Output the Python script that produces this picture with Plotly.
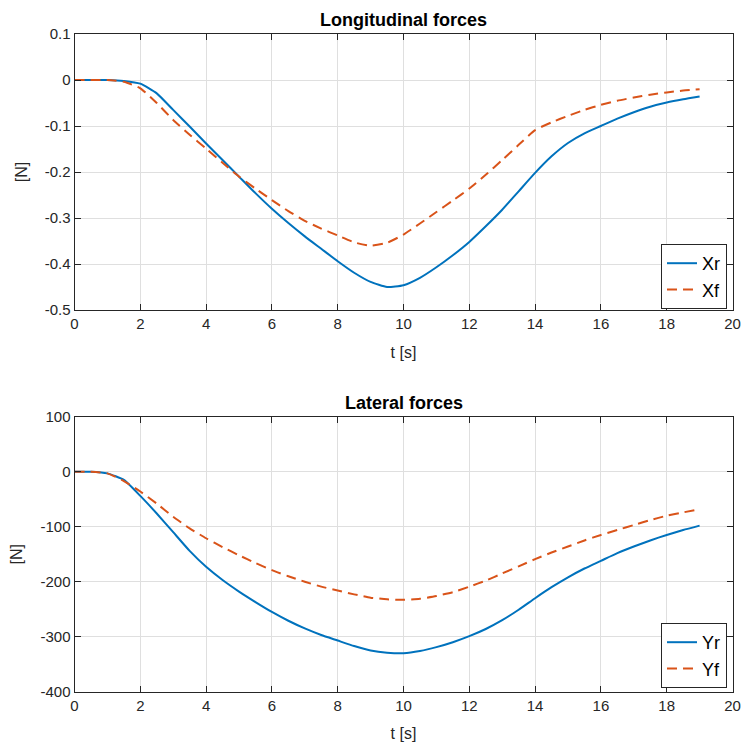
import plotly.graph_objects as go

t = [0, 0.5, 1, 1.5, 2, 2.5, 3, 3.5, 4, 4.5, 5, 5.5, 6, 6.5, 7, 7.5, 8, 8.5, 9, 9.5,
     10, 10.5, 11, 11.5, 12, 12.5, 13, 13.5, 14, 14.5, 15, 15.5, 16, 16.5, 17, 17.5, 18, 18.5, 19]

Xr = [0, 0, 0, -0.002, -0.008, -0.029, -0.065, -0.101, -0.138, -0.174, -0.210, -0.246, -0.280,
      -0.311, -0.340, -0.367, -0.394, -0.419, -0.439, -0.450, -0.446, -0.430, -0.407, -0.381,
      -0.352, -0.318, -0.282, -0.242, -0.202, -0.166, -0.137, -0.116, -0.100, -0.084, -0.070,
      -0.058, -0.049, -0.042, -0.036]
Xf = [0, 0, 0, -0.004, -0.018, -0.050, -0.087, -0.119, -0.149, -0.180, -0.210, -0.236, -0.261,
      -0.285, -0.306, -0.323, -0.338, -0.353, -0.360, -0.354, -0.336, -0.312, -0.287, -0.262,
      -0.236, -0.206, -0.174, -0.141, -0.109, -0.092, -0.078, -0.065, -0.054, -0.045, -0.038,
      -0.032, -0.027, -0.023, -0.020]
Yr = [0, 0, -3, -15, -44, -76, -110, -144, -173, -197, -218, -237, -255, -271, -285, -297, -307,
      -317, -325, -329, -330, -326, -319, -310, -299, -286, -270, -251, -230, -210, -192, -176,
      -162, -148, -136, -125, -115, -106, -98]
Yf = [0, 0, -3, -17, -36, -58, -82, -103, -121, -137, -152, -166, -179, -190, -200, -209, -216,
      -223, -229, -232, -233, -231, -226, -219, -209, -198, -185, -172, -159, -147, -136, -125,
      -115, -106, -97, -88, -80, -74, -68]

x_ticks = [0, 2, 4, 6, 8, 10, 12, 14, 16, 18, 20]
y1_ticks = [0.1, 0, -0.1, -0.2, -0.3, -0.4, -0.5]
y1_labels = ["0.1", "0", "-0.1", "-0.2", "-0.3", "-0.4", "-0.5"]
y2_ticks = [100, 0, -100, -200, -300, -400]
y2_labels = ["100", "0", "-100", "-200", "-300", "-400"]

BLUE = "#0072BD"
RED = "#D95319"
AX = "#262626"
GRID = "#dfdfdf"
FONT = "Liberation Sans, Arial, sans-serif"

W, H = 744, 749

fig = go.Figure()
line_kw = dict(width=2, shape="spline", smoothing=0.5)
fig.add_trace(go.Scatter(x=t, y=Xr, name="Xr", mode="lines", line=dict(color=BLUE, **line_kw),
                         xaxis="x", yaxis="y", legend="legend"))
fig.add_trace(go.Scatter(x=t, y=Xf, name="Xf", mode="lines", line=dict(color=RED, dash="10px,6px", **line_kw),
                         xaxis="x", yaxis="y", legend="legend"))
fig.add_trace(go.Scatter(x=t, y=Yr, name="Yr", mode="lines", line=dict(color=BLUE, **line_kw),
                         xaxis="x2", yaxis="y2", legend="legend2"))
fig.add_trace(go.Scatter(x=t, y=Yf, name="Yf", mode="lines", line=dict(color=RED, dash="10px,6px", **line_kw),
                         xaxis="x2", yaxis="y2", legend="legend2"))

xl, xr = 74.5 / W, 732.5 / W
top_dom = [1 - 310 / H, 1 - 34 / H]
bot_dom = [1 - 691.7 / H, 1 - 416.7 / H]

common_x = dict(range=[0, 20], tickvals=x_ticks, ticks="inside", ticklen=6, tickcolor=AX,
                showline=True, linecolor=AX, linewidth=1, mirror="ticks", showgrid=True,
                gridcolor=GRID, gridwidth=1, zeroline=False, domain=[xl, xr], automargin=False,
                tickfont=dict(family=FONT, size=15, color=AX),
                title=dict(text="t [s]", font=dict(family=FONT, size=16, color=AX), standoff=15))
common_y = dict(ticks="inside", ticklen=6, tickcolor=AX, showline=True, linecolor=AX, linewidth=1,
                mirror="ticks", showgrid=True, gridcolor=GRID, gridwidth=1, zeroline=False,
                automargin=False, tickfont=dict(family=FONT, size=15, color=AX),
                title=dict(text="[N]", font=dict(family=FONT, size=16, color=AX), standoff=13))

legend_kw = dict(xanchor="right", yanchor="bottom", bgcolor="white", bordercolor=AX, borderwidth=1,
                 font=dict(family=FONT, size=18, color="black"), tracegroupgap=0,
                 entrywidth=48, entrywidthmode="pixels")

fig.update_layout(
    width=W, height=H, margin=dict(l=0, r=0, t=0, b=0),
    paper_bgcolor="white", plot_bgcolor="white",
    xaxis=dict(**common_x, anchor="y"),
    yaxis=dict(**common_y, range=[-0.5, 0.1], tickvals=y1_ticks, ticktext=y1_labels, domain=top_dom, anchor="x"),
    xaxis2=dict(**common_x, anchor="y2"),
    yaxis2=dict(**common_y, range=[-400, 100], tickvals=y2_ticks, ticktext=y2_labels, domain=bot_dom, anchor="x2"),
    legend=dict(x=727 / W, y=1 - 309 / H, **legend_kw),
    legend2=dict(x=727 / W, y=1 - 688 / H, **legend_kw),
    annotations=[
        dict(text="<b>Longitudinal forces</b>", x=(xl + xr) / 2, y=1 - 20 / H, xref="paper", yref="paper",
             showarrow=False, xanchor="center", yanchor="middle", font=dict(family=FONT, size=18, color="black")),
        dict(text="<b>Lateral forces</b>", x=(xl + xr) / 2, y=1 - 403 / H, xref="paper", yref="paper",
             showarrow=False, xanchor="center", yanchor="middle", font=dict(family=FONT, size=18, color="black")),
    ],
)

fig.write_html("out.html", config={"displayModeBar": False},
               post_script="document.body.style.margin='0';document.body.style.overflow='hidden';")
